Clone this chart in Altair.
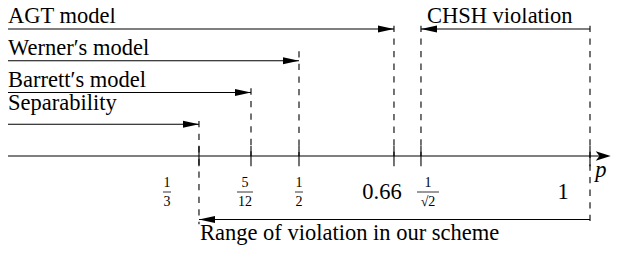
import altair as alt
import pandas as pd

# ---- values (schematic positions along the p axis) ----
tick_pos = [0.3333, 0.4200, 0.5000, 0.6583, 0.7033, 0.9850]
label_pos = [0.2800, 0.4100, 0.5000, 0.6383, 0.7150, 0.9400]
label_num = ["1", "5", "1", "", "1", ""]
label_den = ["3", "12", "2", "", "√2", ""]
label_plain = ["", "", "", "0.66", "", "1"]
bar_half = [0.0067, 0.0133, 0.0067, 0.0, 0.0183, 0.0]
dash_top = [1.1, 2.13, 3.3, 4.1, 4.1, 4.1]
dash_bottom = [-2.15, 0.0, 0.0, 0.0, 0.0, -2.15]

model_names = ["Separability", "Barrett′s model", "Werner′s model", "AGT model"]
model_end = [0.3333, 0.4200, 0.5000, 0.6583]
model_row = [1, 2, 3, 4]
model_text_row = [1.45, 2.17, 3.18, 4.19]

axis_start = 0.015
axis_tip = 1.0195

chsh_from, chsh_to, chsh_row = 0.9850, 0.7033, 4
chsh_text, chsh_text_x, chsh_text_row = "CHSH violation", 0.7133, 4.19
range_from, range_to, range_row = 0.9850, 0.3333, -2
range_text, range_text_x, range_text_row = "Range of violation in our scheme", 0.335, -2.646

label_row = -1.134
p_x, p_row = 1.0033, -0.66

FONT = "Liberation Serif"
BIG = 22.5
SMALL = 14
xs = alt.Scale(domain=[0.015, 1.02], nice=False, zero=False)
ys = alt.Scale(domain=[-2.803, 4.661], nice=False, zero=False)


def X(f):
    return alt.X(f, type="quantitative", scale=xs, axis=None)


def X2(f):
    return alt.X2(f)


def Y(f):
    return alt.Y(f, type="quantitative", scale=ys, axis=None)


RIGHT = "M0,0L-2,-0.44L-2,0.44Z"
LEFT = "M0,0L2,-0.44L2,0.44Z"
AXIS_HEAD = "M0,0L-2,-0.62L-1.5,0L-2,0.62Z"

# horizontal arrows (shafts)
shafts = pd.DataFrame({
    "x": [axis_start] * 4 + [axis_start, chsh_from, range_from],
    "x2": model_end + [axis_tip - 0.015, chsh_to, range_to],
    "y": model_row + [0, chsh_row, range_row],
})
shaft_layer = alt.Chart(shafts).mark_rule(color="black", strokeWidth=1.1).encode(
    x=X("x"), x2=X2("x2"), y=Y("y"))

heads = pd.DataFrame({
    "x": model_end + [chsh_to, range_to],
    "y": model_row + [chsh_row, range_row],
    "shape": [RIGHT] * 4 + [LEFT, LEFT],
})
head_layer = alt.Chart(heads).mark_point(filled=True, opacity=1, color="black",
                                         strokeWidth=0, size=256).encode(
    x=X("x"), y=Y("y"), shape=alt.Shape("shape:N", scale=None, legend=None))

axis_head = pd.DataFrame({"x": [axis_tip], "y": [0], "shape": [AXIS_HEAD]})
axis_head_layer = alt.Chart(axis_head).mark_point(filled=True, opacity=1, color="black",
                                                  strokeWidth=0, size=225).encode(
    x=X("x"), y=Y("y"), shape=alt.Shape("shape:N", scale=None, legend=None))

# dashed verticals
dashes = pd.DataFrame({"x": tick_pos, "y": dash_top, "y2": dash_bottom})
dash_layer = alt.Chart(dashes).mark_rule(color="black", strokeWidth=1.1,
                                         strokeDash=[6.3, 6.3]).encode(
    x=X("x"), y=Y("y"), y2=alt.Y2("y2"))

# solid ticks on the axis
ticks = pd.DataFrame({"x": tick_pos, "y": [0.32] * 6, "y2": [-0.32] * 6})
tick_layer = alt.Chart(ticks).mark_rule(color="black", strokeWidth=1.1).encode(
    x=X("x"), y=Y("y"), y2=alt.Y2("y2"))

# model labels
mtext = pd.DataFrame({"x": [axis_start] * 4 + [chsh_text_x, range_text_x],
                      "y": model_text_row + [chsh_text_row, range_text_row],
                      "t": model_names + [chsh_text, range_text]})
mtext_layer = alt.Chart(mtext).mark_text(font=FONT, fontSize=BIG, align="left",
                                         baseline="alphabetic", color="black").encode(
    x=X("x"), y=Y("y"), text="t:N")

# tick labels
lab = pd.DataFrame({"x": label_pos, "y": [label_row] * 6, "num": label_num,
                    "den": label_den, "plain": label_plain,
                    "bl": [p - h for p, h in zip(label_pos, bar_half)],
                    "br": [p + h for p, h in zip(label_pos, bar_half)]})
frac = lab[lab["num"] != ""]
plain = lab[lab["plain"] != ""]
num_layer = alt.Chart(frac).mark_text(font=FONT, fontSize=SMALL, align="center",
                                      baseline="middle", dy=-9, color="black").encode(
    x=X("x"), y=Y("y"), text="num:N")
den_layer = alt.Chart(frac).mark_text(font=FONT, fontSize=SMALL, align="center",
                                      baseline="middle", dy=9.5, color="black").encode(
    x=X("x"), y=Y("y"), text="den:N")
bar_layer = alt.Chart(frac).mark_rule(color="black", strokeWidth=0.8).encode(
    x=X("bl"), x2=X2("br"), y=Y("y"))
plain_layer = alt.Chart(plain).mark_text(font=FONT, fontSize=BIG, align="center",
                                         baseline="middle", color="black").encode(
    x=X("x"), y=Y("y"), text="plain:N")

p_layer = alt.Chart(pd.DataFrame({"x": [p_x], "y": [p_row], "t": ["p"]})).mark_text(
    font=FONT, fontSize=BIG, fontStyle="italic", align="center", baseline="alphabetic",
    color="black").encode(x=X("x"), y=Y("y"), text="t:N")

chart = alt.layer(
    dash_layer, tick_layer, shaft_layer, head_layer, axis_head_layer,
    mtext_layer, num_layer, den_layer, bar_layer, plain_layer, p_layer
).properties(
    width=603, height=237, padding=0, background="white",
    autosize=alt.AutoSizeParams(type="none")
).configure_view(strokeWidth=0, stroke="transparent")

chart.save("out.html", embed_options={"renderer": "svg", "actions": False})
